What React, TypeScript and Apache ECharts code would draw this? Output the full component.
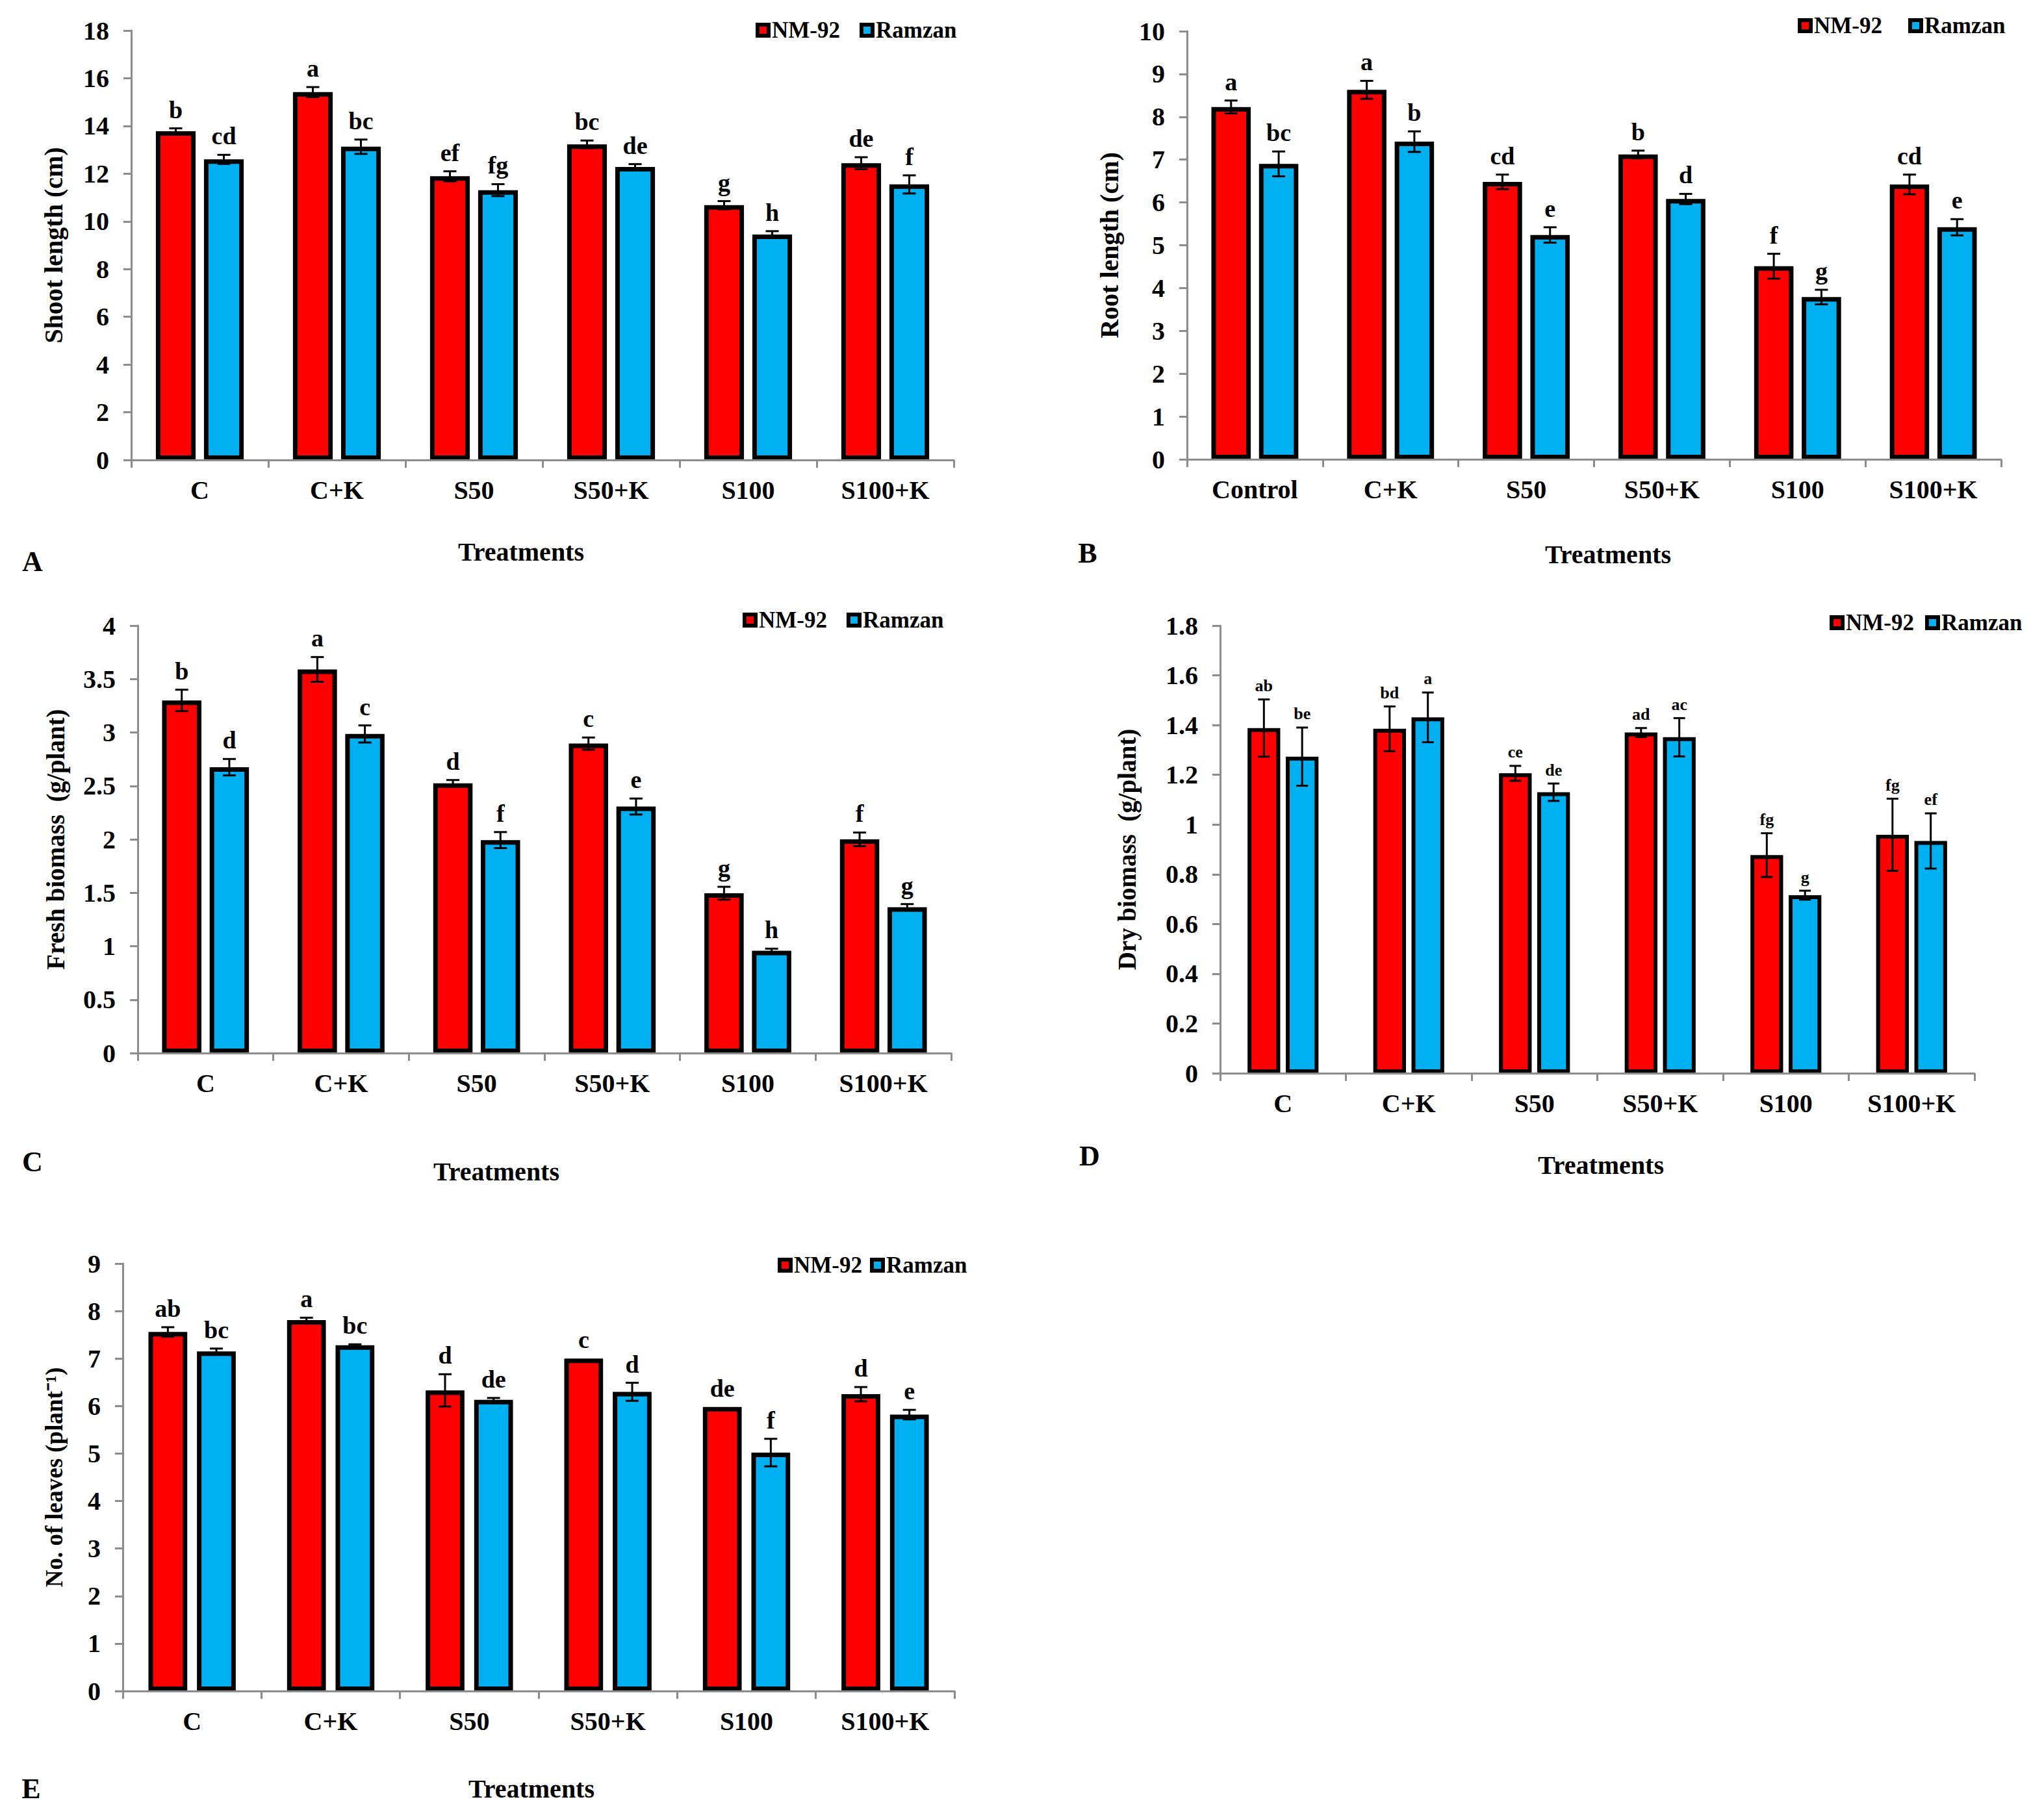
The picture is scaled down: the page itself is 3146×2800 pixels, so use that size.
import React, { useEffect, useRef } from "react";
import * as echarts from "echarts";

// ---------- data ----------
const treatments = ["C", "C+K", "S50", "S50+K", "S100", "S100+K"];
const treatmentsB = ["Control", "C+K", "S50", "S50+K", "S100", "S100+K"];
const cultivars = ["NM-92", "Ramzan"];

// A: Shoot length (cm)
const shootNM = [13.78, 15.42, 11.89, 13.23, 10.68, 12.44];
const shootNMErr = [0.12, 0.21, 0.21, 0.16, 0.17, 0.25];
const shootRam = [12.6, 13.13, 11.31, 12.28, 9.45, 11.55];
const shootRamErr = [0.19, 0.3, 0.25, 0.12, 0.14, 0.38];
const shootNMLetters = ["b", "a", "ef", "bc", "g", "de"];
const shootRamLetters = ["cd", "bc", "fg", "de", "h", "f"];

// B: Root length (cm)
const rootNM = [8.23, 8.63, 6.48, 7.12, 4.51, 6.42];
const rootNMErr = [0.15, 0.21, 0.17, 0.09, 0.29, 0.23];
const rootRam = [6.9, 7.42, 5.24, 6.08, 3.79, 5.42];
const rootRamErr = [0.29, 0.24, 0.18, 0.12, 0.17, 0.19];
const rootNMLetters = ["a", "a", "cd", "b", "f", "cd"];
const rootRamLetters = ["bc", "b", "e", "d", "g", "e"];

// C: Fresh biomass (g/plant)
const freshNM = [3.3, 3.59, 2.525, 2.896, 1.496, 2.0];
const freshNMErr = [0.1, 0.116, 0.03, 0.057, 0.06, 0.064];
const freshRam = [2.675, 2.986, 1.993, 2.307, 0.957, 1.364];
const freshRamErr = [0.077, 0.08, 0.075, 0.075, 0.02, 0.03];
const freshNMLetters = ["b", "a", "d", "c", "g", "f"];
const freshRamLetters = ["d", "c", "f", "e", "h", "g"];

// D: Dry biomass (g/plant)
const dryNM = [1.388, 1.385, 1.206, 1.37, 0.877, 0.959];
const dryNMErr = [0.115, 0.09, 0.03, 0.018, 0.088, 0.145];
const dryRam = [1.273, 1.431, 1.13, 1.351, 0.716, 0.934];
const dryRamErr = [0.117, 0.1, 0.035, 0.077, 0.018, 0.111];
const dryNMLetters = ["ab", "bd", "ce", "ad", "fg", "fg"];
const dryRamLetters = ["be", "a", "de", "ac", "g", "ef"];

// E: No. of leaves (plant-1)
const leavesNM = [7.56, 7.81, 6.33, 7.0, 5.98, 6.25];
const leavesNMErr = [0.1, 0.05, 0.34, 0, 0, 0.15];
const leavesRam = [7.15, 7.28, 6.13, 6.3, 5.02, 5.82];
const leavesRamErr = [0.06, 0.02, 0.04, 0.19, 0.29, 0.1];
const leavesNMLetters = ["ab", "a", "d", "c", "de", "d"];
const leavesRamLetters = ["bc", "bc", "de", "d", "f", "e"];

// ---------- layout / style ----------
const FONT = '"Liberation Serif", "Times New Roman", serif';
const RED = "#FF0000";
const BLUE = "#00B0F0";
const GRAY = "#8C8C8C";

const panels = [
  {
    tag: "A", cats: treatments, nm: shootNM, nmErr: shootNMErr, ram: shootRam, ramErr: shootRamErr,
    nmLet: shootNMLetters, ramLet: shootRamLetters, yName: "Shoot length (cm)", yMax: 18, yInt: 2,
    grid: { left: 202, top: 47, width: 1266, height: 661 }, nameGap: 100, nameSize: 40,
    bw: 0.29, bg: 0.21, border: 7, letterSize: 38, letterGap: 10, cap: 10,
    legend: { left: 1163, top: 29, gap: 30 }, title: [802, 849], label: [50, 864],
  },
  {
    tag: "B", cats: treatmentsB, nm: rootNM, nmErr: rootNMErr, ram: rootRam, ramErr: rootRamErr,
    nmLet: rootNMLetters, ramLet: rootRamLetters, yName: "Root length (cm)", yMax: 10, yInt: 1,
    grid: { left: 1827, top: 48, width: 1253, height: 659 }, nameGap: 100, nameSize: 40,
    bw: 0.29, bg: 0.21, border: 7, letterSize: 38, letterGap: 10, cap: 10,
    legend: { left: 2767, top: 22, gap: 40 }, title: [2475, 853], label: [1674, 851],
  },
  {
    tag: "C", cats: treatments, nm: freshNM, nmErr: freshNMErr, ram: freshRam, ramErr: freshRamErr,
    nmLet: freshNMLetters, ramLet: freshRamLetters, yName: "Fresh biomass  (g/plant)", yMax: 4, yInt: 0.5,
    grid: { left: 212, top: 963, width: 1252, height: 658 }, nameGap: 107, nameSize: 39,
    bw: 0.29, bg: 0.21, border: 7, letterSize: 38, letterGap: 10, cap: 10,
    legend: { left: 1143, top: 937, gap: 30 }, title: [764, 1803], label: [50, 1788],
  },
  {
    tag: "D", cats: treatments, nm: dryNM, nmErr: dryNMErr, ram: dryRam, ramErr: dryRamErr,
    nmLet: dryNMLetters, ramLet: dryRamLetters, yName: "Dry biomass  (g/plant)", yMax: 1.8, yInt: 0.2,
    grid: { left: 1878, top: 963, width: 1161, height: 689 }, nameGap: 124, nameSize: 39,
    bw: 0.26, bg: 0.17, border: 6, letterSize: 26, letterGap: 8, cap: 9,
    legend: { left: 2816, top: 941, gap: 17 }, title: [2464, 1793], label: [1677, 1779],
  },
  {
    tag: "E", cats: treatments, nm: leavesNM, nmErr: leavesNMErr, ram: leavesRam, ramErr: leavesRamErr,
    nmLet: leavesNMLetters, ramLet: leavesRamLetters, yName: "No. of leaves (plant\u207B\u00B9)", yMax: 9, yInt: 1,
    grid: { left: 189, top: 1945, width: 1280, height: 658 }, nameGap: 87, nameSize: 37,
    bw: 0.28, bg: 0.25, border: 7, letterSize: 38, letterGap: 10, cap: 10,
    legend: { left: 1197, top: 1930, gap: 12 }, title: [818, 2753], label: [48, 2753],
  },
];

function buildOption() {
  const grid: any[] = [];
  const xAxis: any[] = [];
  const yAxis: any[] = [];
  const legend: any[] = [];
  const series: any[] = [];
  const graphic: any[] = [];

  panels.forEach((p, i) => {
    grid.push({ ...p.grid, containLabel: false, outerBoundsMode: "none" });
    xAxis.push({
      type: "category",
      gridIndex: i,
      data: p.cats,
      z: 3,
      axisLine: { show: true, lineStyle: { color: GRAY, width: 3 } },
      axisTick: { show: true, length: 12, lineStyle: { color: GRAY, width: 3 } },
      axisLabel: { interval: 0, margin: 26, color: "#000", fontSize: 40, fontWeight: "bold", fontFamily: FONT },
      splitLine: { show: false },
    });
    yAxis.push({
      type: "value",
      gridIndex: i,
      min: 0,
      max: p.yMax,
      interval: p.yInt,
      z: 3,
      name: p.yName,
      nameLocation: "middle",
      nameGap: p.nameGap,
      nameTextStyle: { color: "#000", fontSize: p.nameSize, fontWeight: "bold", fontFamily: FONT },
      axisLine: { show: true, lineStyle: { color: GRAY, width: 3 } },
      axisTick: { show: true, length: 12, lineStyle: { color: GRAY, width: 3 } },
      axisLabel: {
        margin: 34, color: "#000", fontSize: 40, fontWeight: "bold", fontFamily: FONT,
        formatter: (v: number) => String(+v.toFixed(2)),
      },
      splitLine: { show: false },
    });
    legend.push({
      data: cultivars,
      left: p.legend.left,
      top: p.legend.top,
      itemGap: p.legend.gap,
      padding: 0,
      icon: "rect",
      itemWidth: 17,
      itemHeight: 17,
      itemStyle: { borderColor: "#000", borderWidth: 6 },
      textStyle: { color: "#000", fontSize: 35, fontWeight: "bold", fontFamily: FONT },
      selectedMode: false,
    });
    const vals = [p.nm, p.ram];
    const colors = [RED, BLUE];
    vals.forEach((v, k) => {
      series.push({
        type: "bar",
        name: cultivars[k],
        xAxisIndex: i,
        yAxisIndex: i,
        data: v,
        barWidth: `${p.bw * 100}%`,
        barGap: `${p.bg * 100}%`,
        itemStyle: { color: colors[k], borderColor: "#000", borderWidth: p.border },
        z: 2,
      });
    });
    const errData: any[] = [];
    p.nm.forEach((v, j) => errData.push([j, v, p.nmErr[j], 0]));
    p.ram.forEach((v, j) => errData.push([j, v, p.ramErr[j], 1]));
    const letters = [...p.nmLet, ...p.ramLet];
    series.push({
      type: "custom",
      xAxisIndex: i,
      yAxisIndex: i,
      data: errData,
      z: 5,
      clip: false,
      silent: true,
      renderItem: (params: any, api: any) => {
        const cat = api.value(0);
        const val = api.value(1);
        const err = api.value(2);
        const which = api.value(3);
        const band = api.size([1, 0])[0];
        const bw = band * p.bw;
        const gap = bw * p.bg;
        const off = (which === 0 ? -1 : 1) * (bw + gap) / 2;
        const c = api.coord([cat, val]);
        const x = c[0] + off;
        const yt = api.coord([cat, val + err])[1];
        const yb = api.coord([cat, val - err])[1];
        const ls = { stroke: "#000", lineWidth: 3 };
        const children: any[] = [];
        if (err > 0) {
          children.push({ type: "line", shape: { x1: x, y1: yt, x2: x, y2: yb }, style: ls });
          children.push({ type: "line", shape: { x1: x - p.cap, y1: yt, x2: x + p.cap, y2: yt }, style: ls });
          children.push({ type: "line", shape: { x1: x - p.cap, y1: yb, x2: x + p.cap, y2: yb }, style: ls });
        }
        children.push({
          type: "text",
          x,
          y: Math.min(yt, c[1]) - p.letterGap,
          style: {
            text: letters[params.dataIndex],
            fill: "#000",
            fontSize: p.letterSize,
            fontWeight: "bold",
            fontFamily: FONT,
            align: "center",
            verticalAlign: "bottom",
          },
        });
        return { type: "group", children };
      },
    });
    graphic.push({
      type: "text",
      x: p.title[0],
      y: p.title[1],
      style: {
        text: "Treatments", fill: "#000", fontSize: 40, fontWeight: "bold", fontFamily: FONT,
        align: "center", verticalAlign: "middle", textAlign: "center", textVerticalAlign: "middle",
      },
    });
    graphic.push({
      type: "text",
      x: p.label[0],
      y: p.label[1],
      style: {
        text: p.tag, fill: "#000", fontSize: 44, fontWeight: "bold", fontFamily: FONT,
        align: "center", verticalAlign: "middle", textAlign: "center", textVerticalAlign: "middle",
      },
    });
  });

  return {
    animation: false,
    backgroundColor: "#fff",
    grid,
    xAxis,
    yAxis,
    legend,
    series,
    graphic,
    tooltip: { show: false },
  };
}

export default function App() {
  const ref = useRef<HTMLDivElement>(null);
  useEffect(() => {
    document.body.style.margin = "0";
    if (!ref.current) return;
    const chart = echarts.init(ref.current, undefined, { renderer: "svg" });
    chart.setOption(buildOption() as any);
    return () => chart.dispose();
  }, []);
  return <div ref={ref} style={{ width: 3146, height: 2800, background: "#fff" }} />;
}
